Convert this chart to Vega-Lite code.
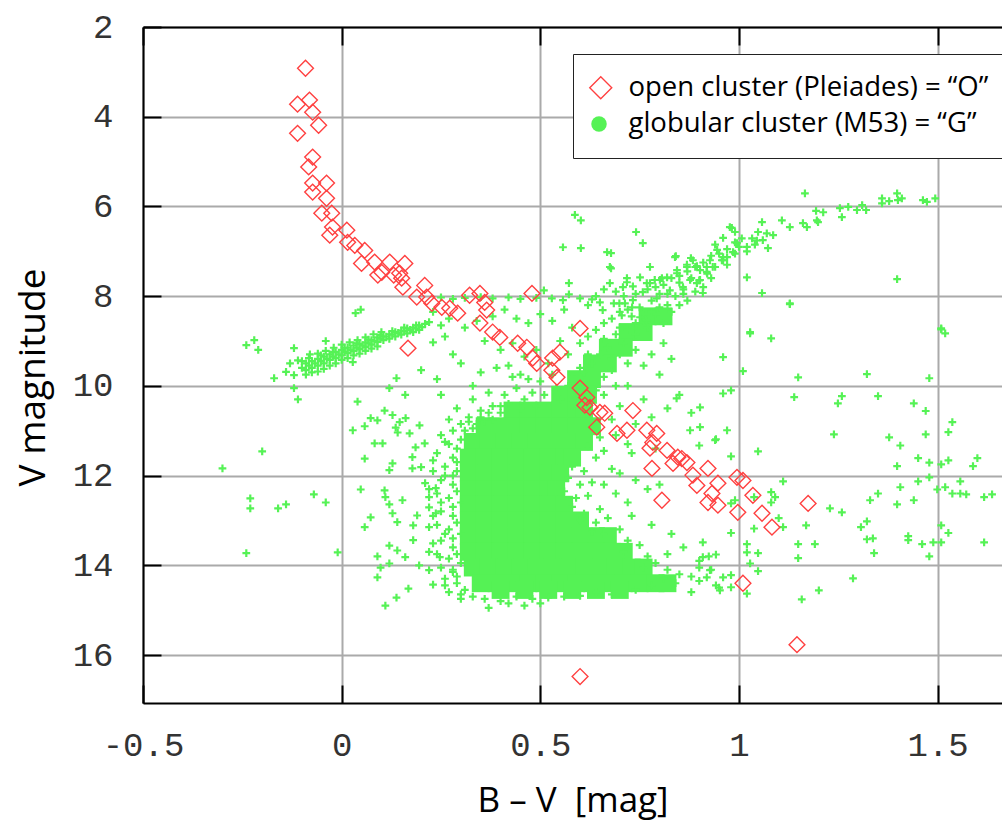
{
"$schema": "https://vega.github.io/schema/vega-lite/v6.json",
"width": 859, "height": 676,
"autosize": {"type": "none"},
"padding": {"left": 143, "top": 27, "right": 0, "bottom": 119},
"background": "white",
"config": {"view": {"stroke": null}},
"datasets": {
"core": [
{"b":0.77,"v":8.45},{"b":0.81,"v":8.45},
{"b":0.72,"v":8.8},{"b":0.76,"v":8.8},
{"b":0.67,"v":9.15},{"b":0.71,"v":9.15},
{"b":0.63,"v":9.5},{"b":0.67,"v":9.5},
{"b":0.59,"v":9.85},{"b":0.63,"v":9.85},
{"b":0.55,"v":10.2},{"b":0.59,"v":10.2},{"b":0.62,"v":10.2},
{"b":0.43,"v":10.55},{"b":0.47,"v":10.55},{"b":0.51,"v":10.55},{"b":0.55,"v":10.55},{"b":0.59,"v":10.55},{"b":0.61,"v":10.55},
{"b":0.36,"v":10.9},{"b":0.39,"v":10.9},{"b":0.43,"v":10.9},{"b":0.47,"v":10.9},{"b":0.51,"v":10.9},{"b":0.55,"v":10.9},{"b":0.59,"v":10.9},{"b":0.63,"v":10.9},
{"b":0.33,"v":11.25},{"b":0.37,"v":11.25},{"b":0.41,"v":11.25},{"b":0.45,"v":11.25},{"b":0.49,"v":11.25},{"b":0.53,"v":11.25},{"b":0.57,"v":11.25},{"b":0.61,"v":11.25},
{"b":0.32,"v":11.6},{"b":0.36,"v":11.6},{"b":0.40,"v":11.6},{"b":0.44,"v":11.6},{"b":0.48,"v":11.6},{"b":0.52,"v":11.6},{"b":0.56,"v":11.6},{"b":0.58,"v":11.6},
{"b":0.32,"v":11.95},{"b":0.36,"v":11.95},{"b":0.40,"v":11.95},{"b":0.44,"v":11.95},{"b":0.48,"v":11.95},{"b":0.52,"v":11.95},{"b":0.55,"v":11.95},
{"b":0.32,"v":12.3},{"b":0.36,"v":12.3},{"b":0.40,"v":12.3},{"b":0.44,"v":12.3},{"b":0.48,"v":12.3},{"b":0.52,"v":12.3},{"b":0.54,"v":12.3},
{"b":0.32,"v":12.65},{"b":0.36,"v":12.65},{"b":0.40,"v":12.65},{"b":0.44,"v":12.65},{"b":0.48,"v":12.65},{"b":0.52,"v":12.65},{"b":0.56,"v":12.65},
{"b":0.32,"v":13.0},{"b":0.36,"v":13.0},{"b":0.40,"v":13.0},{"b":0.44,"v":13.0},{"b":0.48,"v":13.0},{"b":0.52,"v":13.0},{"b":0.56,"v":13.0},{"b":0.60,"v":13.0},
{"b":0.32,"v":13.35},{"b":0.36,"v":13.35},{"b":0.40,"v":13.35},{"b":0.44,"v":13.35},{"b":0.48,"v":13.35},{"b":0.52,"v":13.35},{"b":0.56,"v":13.35},{"b":0.60,"v":13.35},{"b":0.64,"v":13.35},{"b":0.67,"v":13.35},
{"b":0.32,"v":13.7},{"b":0.36,"v":13.7},{"b":0.40,"v":13.7},{"b":0.44,"v":13.7},{"b":0.48,"v":13.7},{"b":0.52,"v":13.7},{"b":0.56,"v":13.7},{"b":0.60,"v":13.7},{"b":0.64,"v":13.7},{"b":0.68,"v":13.7},{"b":0.71,"v":13.7},
{"b":0.33,"v":14.05},{"b":0.37,"v":14.05},{"b":0.41,"v":14.05},{"b":0.45,"v":14.05},{"b":0.49,"v":14.05},{"b":0.53,"v":14.05},{"b":0.57,"v":14.05},{"b":0.61,"v":14.05},{"b":0.65,"v":14.05},{"b":0.69,"v":14.05},{"b":0.73,"v":14.05},{"b":0.76,"v":14.05},
{"b":0.35,"v":14.4},{"b":0.39,"v":14.4},{"b":0.43,"v":14.4},{"b":0.47,"v":14.4},{"b":0.51,"v":14.4},{"b":0.55,"v":14.4},{"b":0.59,"v":14.4},{"b":0.63,"v":14.4},{"b":0.67,"v":14.4},{"b":0.71,"v":14.4},{"b":0.75,"v":14.4},{"b":0.79,"v":14.4},{"b":0.82,"v":14.4},
{"b":0.40,"v":14.55},{"b":0.46,"v":14.55},{"b":0.52,"v":14.55},{"b":0.58,"v":14.55},{"b":0.64,"v":14.55},{"b":0.70,"v":14.55}
],
"green": [
{"b":-0.09,"v":9.5},{"b":-0.09,"v":9.65},{"b":-0.09,"v":9.75},{"b":-0.075,"v":9.45},{"b":-0.075,"v":9.6},{"b":-0.075,"v":9.7},{"b":-0.06,"v":9.4},{"b":-0.06,"v":9.55},{"b":-0.06,"v":9.68},{"b":-0.045,"v":9.35},{"b":-0.045,"v":9.5},{"b":-0.045,"v":9.62},{"b":-0.03,"v":9.3},{"b":-0.03,"v":9.42},{"b":-0.03,"v":9.55},{"b":-0.015,"v":9.25},{"b":-0.015,"v":9.38},{"b":-0.015,"v":9.5},{"b":0,"v":9.2},{"b":0,"v":9.32},{"b":0,"v":9.42},{"b":0.015,"v":9.15},{"b":0.015,"v":9.27},{"b":0.015,"v":9.38},{"b":0.03,"v":9.1},{"b":0.03,"v":9.22},{"b":0.03,"v":9.32},{"b":0.045,"v":9.07},{"b":0.045,"v":9.18},{"b":0.045,"v":9.28},{"b":0.06,"v":9.03},{"b":0.06,"v":9.13},{"b":0.06,"v":9.22},{"b":0.075,"v":8.98},{"b":0.075,"v":9.08},{"b":0.075,"v":9.17},{"b":0.09,"v":8.92},{"b":0.09,"v":9.02},{"b":0.09,"v":9.12},{"b":0.105,"v":8.9},{"b":0.105,"v":8.98},{"b":0.12,"v":8.85},{"b":0.12,"v":8.95},{"b":0.135,"v":8.8},{"b":0.135,"v":8.9},{"b":0.15,"v":8.77},{"b":0.15,"v":8.86},{"b":0.165,"v":8.72},{"b":0.165,"v":8.83},{"b":0.18,"v":8.7},{"b":0.18,"v":8.8},{"b":0.195,"v":8.65},{"b":0.195,"v":8.75},{"b":0.21,"v":8.62},
{"b":-0.08,"v":9.3},{"b":-0.06,"v":9.28},{"b":-0.04,"v":9.22},{"b":-0.02,"v":9.15},{"b":0.0,"v":9.08},{"b":0.02,"v":9.03},{"b":0.04,"v":8.98},{"b":0.06,"v":8.92},{"b":0.08,"v":8.85},{"b":0.10,"v":8.8},
{"b":-0.0825,"v":9.55},{"b":-0.0675,"v":9.5},{"b":-0.0525,"v":9.45},{"b":-0.0375,"v":9.4},{"b":-0.0225,"v":9.35},{"b":-0.0075,"v":9.3},{"b":0.0075,"v":9.25},{"b":0.0225,"v":9.2},{"b":0.0375,"v":9.15},{"b":0.0525,"v":9.1},{"b":0.0675,"v":9.05},{"b":0.0825,"v":9.0},{"b":0.0975,"v":8.95},{"b":0.1125,"v":8.9},{"b":0.1275,"v":8.86},{"b":0.1425,"v":8.82},{"b":0.1575,"v":8.78},{"b":0.1725,"v":8.75},{"b":0.1875,"v":8.72},{"b":0.2025,"v":8.69},{"b":-0.0825,"v":9.38},{"b":-0.0525,"v":9.32},{"b":-0.0225,"v":9.25},{"b":0.0075,"v":9.15},{"b":0.0375,"v":9.05},{"b":0.0675,"v":8.97},{"b":0.0975,"v":8.87},{"b":0.1275,"v":8.78},{"b":0.1575,"v":8.7},{"b":0.1875,"v":8.65},{"b":-0.1,"v":9.6},{"b":-0.1,"v":9.45},
{"b":-0.24,"v":9.09},{"b":-0.22,"v":8.98},{"b":-0.21,"v":9.2},{"b":-0.12,"v":9.16},{"b":-0.13,"v":9.5},{"b":-0.11,"v":9.43},{"b":-0.14,"v":9.69},{"b":-0.17,"v":9.83},{"b":-0.12,"v":9.76},{"b":-0.12,"v":10.05},{"b":-0.11,"v":10.3},{"b":0.035,"v":8.38},{"b":0.048,"v":8.3},{"b":-0.04,"v":9.0},{"b":0.028,"v":9.47},{"b":0.22,"v":8.58},{"b":0.23,"v":9.03},{"b":0.25,"v":8.65},{"b":0.2,"v":9.65},{"b":0.138,"v":9.83},{"b":0.12,"v":10.05},{"b":0.04,"v":10.35},{"b":0.16,"v":10.2},
{"b":-0.2,"v":11.46},{"b":-0.3,"v":11.84},{"b":-0.23,"v":12.51},{"b":-0.23,"v":12.73},{"b":-0.16,"v":12.73},{"b":-0.14,"v":12.64},{"b":-0.07,"v":12.42},{"b":-0.04,"v":12.6},{"b":-0.24,"v":13.73},{"b":-0.01,"v":13.71},{"b":0.048,"v":12.31},{"b":0.058,"v":13.15},{"b":0.073,"v":12.93},{"b":0.028,"v":10.99},{"b":0.058,"v":10.9},{"b":0.073,"v":10.72},{"b":0.09,"v":10.77},{"b":0.083,"v":11.28},{"b":0.058,"v":11.62},{"b":0.103,"v":11.28},{"b":0.12,"v":11.88},{"b":0.11,"v":12.48},{"b":0.12,"v":13.56},{"b":0.09,"v":13.8},{"b":0.098,"v":14.05},{"b":0.09,"v":14.27},{"b":0.11,"v":14.9},{"b":0.138,"v":14.72},{"b":0.168,"v":14.52},{"b":0.12,"v":13.96},{"b":0.14,"v":13.67},{"b":0.16,"v":13.82},{"b":0.18,"v":13.44},{"b":0.195,"v":14.0},{"b":0.23,"v":14.43},{"b":0.22,"v":14.11},{"b":0.128,"v":12.84},{"b":0.14,"v":13.04},{"b":0.12,"v":12.64},{"b":0.19,"v":12.89},{"b":0.18,"v":13.11},{"b":0.22,"v":13.15},{"b":0.23,"v":13.51},{"b":0.247,"v":13.82},{"b":0.108,"v":10.55},{"b":0.128,"v":10.65},{"b":0.146,"v":10.81},{"b":0.161,"v":10.72},{"b":0.141,"v":11.04},{"b":0.136,"v":10.93},{"b":0.171,"v":11.06},{"b":0.196,"v":10.88},{"b":0.186,"v":11.37},{"b":0.209,"v":11.28},{"b":0.178,"v":11.59},{"b":0.128,"v":11.73},{"b":0.178,"v":11.84},{"b":0.2,"v":11.81},{"b":0.23,"v":11.66},{"b":0.21,"v":12.17},{"b":0.237,"v":12.28},{"b":0.22,"v":12.48},{"b":0.108,"v":12.33},{"b":0.153,"v":12.55},{"b":0.22,"v":12.71},{"b":0.237,"v":12.84},
{"b":0.25,"v":11.1},{"b":0.28,"v":11.0},{"b":0.27,"v":11.3},{"b":0.30,"v":11.2},{"b":0.24,"v":11.5},{"b":0.28,"v":11.6},{"b":0.26,"v":11.8},{"b":0.29,"v":11.9},{"b":0.25,"v":12.1},{"b":0.28,"v":12.2},{"b":0.24,"v":12.4},{"b":0.27,"v":12.5},{"b":0.30,"v":12.6},{"b":0.25,"v":12.8},{"b":0.28,"v":12.9},{"b":0.24,"v":13.1},{"b":0.27,"v":13.2},{"b":0.30,"v":13.3},{"b":0.25,"v":13.45},{"b":0.28,"v":13.6},{"b":0.24,"v":13.75},{"b":0.27,"v":13.85},{"b":0.30,"v":13.95},{"b":0.25,"v":14.05},{"b":0.28,"v":14.15},{"b":0.26,"v":14.3},{"b":0.29,"v":14.4},{"b":0.31,"v":14.55},{"b":0.27,"v":14.6},{"b":0.33,"v":14.7},{"b":0.36,"v":14.75},{"b":0.40,"v":14.8},{"b":0.44,"v":14.7},{"b":0.48,"v":14.75},{"b":0.52,"v":14.72},{"b":0.56,"v":14.7},{"b":0.60,"v":14.68},{"b":0.42,"v":14.85},{"b":0.50,"v":14.85},{"b":0.30,"v":14.75},{"b":0.37,"v":14.95},{"b":0.46,"v":14.9},
{"b":0.29,"v":11.4},{"b":0.29,"v":11.7},{"b":0.28,"v":12.0},{"b":0.29,"v":12.35},{"b":0.28,"v":12.7},{"b":0.29,"v":13.05},{"b":0.28,"v":13.4},{"b":0.29,"v":13.75},{"b":0.28,"v":14.1},{"b":0.29,"v":14.25},{"b":0.3,"v":14.65},{"b":0.26,"v":11.25},{"b":0.26,"v":12.0},{"b":0.25,"v":12.6},{"b":0.26,"v":13.3},{"b":0.26,"v":14.45},{"b":0.23,"v":12.9},{"b":0.22,"v":13.7},{"b":0.22,"v":12.3},{"b":0.23,"v":11.9},
{"b":0.37,"v":10.6},{"b":0.38,"v":10.75},{"b":0.40,"v":10.45},{"b":0.35,"v":10.7},{"b":0.34,"v":10.85},{"b":0.31,"v":11.0},{"b":0.32,"v":10.8},
{"b":0.32,"v":10.7},{"b":0.35,"v":10.55},{"b":0.30,"v":10.85},{"b":0.38,"v":10.45},{"b":0.42,"v":10.4},{"b":0.46,"v":10.3},{"b":0.36,"v":10.8},{"b":0.40,"v":10.6},{"b":0.45,"v":10.5},{"b":0.49,"v":10.45},{"b":0.33,"v":10.95},{"b":0.27,"v":10.75},{"b":0.29,"v":10.5},{"b":0.33,"v":10.3},{"b":0.37,"v":10.15},{"b":0.41,"v":10.2},{"b":0.44,"v":10.05},{"b":0.48,"v":10.15},{"b":0.51,"v":10.2},{"b":0.50,"v":9.9},{"b":0.54,"v":10.05},{"b":0.53,"v":9.75},{"b":0.47,"v":9.85},{"b":0.43,"v":9.8},
{"b":0.23,"v":8.35},{"b":0.27,"v":8.5},{"b":0.31,"v":8.7},{"b":0.26,"v":8.9},{"b":0.34,"v":8.55},{"b":0.38,"v":8.45},{"b":0.41,"v":8.3},{"b":0.44,"v":8.5},{"b":0.47,"v":8.6},{"b":0.5,"v":8.4},{"b":0.53,"v":8.55},{"b":0.56,"v":8.3},{"b":0.58,"v":8.7},{"b":0.36,"v":9.0},{"b":0.4,"v":9.2},{"b":0.43,"v":9.05},{"b":0.46,"v":9.35},{"b":0.49,"v":9.2},{"b":0.52,"v":9.5},{"b":0.55,"v":9.0},{"b":0.57,"v":9.3},{"b":0.3,"v":9.5},{"b":0.35,"v":9.7},{"b":0.39,"v":9.6},{"b":0.28,"v":9.3},{"b":0.24,"v":9.85},{"b":0.33,"v":10.0},{"b":0.42,"v":9.55},{"b":0.45,"v":9.75},{"b":0.25,"v":10.2},
{"b":0.25,"v":8.03},{"b":0.28,"v":8.06},{"b":0.31,"v":8.04},{"b":0.35,"v":8.02},{"b":0.38,"v":8.05},{"b":0.42,"v":8.03},{"b":0.45,"v":8.06},{"b":0.49,"v":8.04},{"b":0.509,"v":7.87},{"b":0.572,"v":7.96},{"b":0.529,"v":8.05},{"b":0.557,"v":8.09},{"b":0.6,"v":8.05},{"b":0.63,"v":8.07},{"b":0.65,"v":8.14},{"b":0.685,"v":8.16},{"b":0.699,"v":8.16},{"b":0.657,"v":8.31},
{"b":0.62,"v":9.3},{"b":0.6,"v":9.6},{"b":0.58,"v":9.95},{"b":0.55,"v":10.3},{"b":0.66,"v":8.95},{"b":0.7,"v":8.7},{"b":0.73,"v":8.45},{"b":0.75,"v":8.25},{"b":0.78,"v":8.1},{"b":0.8,"v":7.95},{"b":0.76,"v":8.55},{"b":0.79,"v":8.4},{"b":0.82,"v":8.2},{"b":0.84,"v":8.0},{"b":0.86,"v":7.85},{"b":0.71,"v":9.05},{"b":0.74,"v":8.85},{"b":0.77,"v":8.7},{"b":0.68,"v":9.4},{"b":0.72,"v":9.5},{"b":0.66,"v":9.8},{"b":0.64,"v":10.1},{"b":0.69,"v":10.0},{"b":0.62,"v":10.45},{"b":0.74,"v":9.2},{"b":0.81,"v":8.6},{"b":0.83,"v":8.35},{"b":0.87,"v":8.1},{"b":0.89,"v":7.9},{"b":0.9,"v":7.65},{"b":0.88,"v":7.6},{"b":0.92,"v":7.5},{"b":0.85,"v":7.7},{"b":0.94,"v":7.35},{"b":0.96,"v":7.2},{"b":0.97,"v":7.3},{"b":0.99,"v":7.05},{"b":1.0,"v":6.9},{"b":1.02,"v":7.0},{"b":1.04,"v":6.85},{"b":0.93,"v":7.6},{"b":0.91,"v":7.8},{"b":1.06,"v":6.75},
{"b":0.62,"v":8.2},{"b":0.64,"v":8.0},{"b":0.66,"v":7.85},{"b":0.69,"v":7.9},{"b":0.71,"v":8.0},{"b":0.74,"v":7.95},{"b":0.77,"v":7.85},{"b":0.79,"v":7.8},{"b":0.81,"v":7.75},{"b":0.83,"v":7.6},{"b":0.85,"v":7.55},{"b":0.87,"v":7.45},{"b":0.89,"v":7.35},{"b":0.91,"v":7.25},{"b":0.93,"v":7.1},{"b":0.95,"v":7.05},{"b":0.97,"v":6.95},{"b":0.94,"v":6.85},{"b":0.96,"v":6.7},{"b":0.72,"v":8.3},{"b":0.7,"v":8.35},{"b":0.68,"v":8.5},{"b":0.66,"v":8.6},{"b":0.64,"v":8.75},{"b":0.62,"v":8.9},{"b":0.6,"v":9.05},{"b":0.85,"v":8.2},{"b":0.86,"v":7.95},{"b":0.82,"v":7.95},{"b":0.8,"v":8.25},{"b":0.78,"v":8.35},{"b":0.76,"v":8.4},{"b":0.74,"v":8.6},{"b":0.72,"v":8.75},{"b":0.69,"v":8.85},{"b":0.7,"v":9.0},{"b":0.67,"v":9.15},{"b":0.65,"v":9.3},{"b":0.63,"v":9.5},{"b":0.61,"v":9.7},{"b":0.58,"v":9.8},{"b":0.57,"v":10.0},{"b":0.6,"v":10.3},{"b":0.66,"v":10.2},{"b":0.68,"v":9.65},{"b":0.7,"v":9.3},
{"b":0.982,"v":6.48},{"b":0.99,"v":6.57},{"b":1.007,"v":6.71},{"b":0.995,"v":6.82},{"b":1.02,"v":6.9},{"b":1.033,"v":6.71},{"b":1.048,"v":6.57},{"b":1.045,"v":6.76},{"b":1.07,"v":6.6},{"b":1.086,"v":6.64},{"b":1.073,"v":6.93},{"b":1.058,"v":6.35},{"b":1.108,"v":6.31},{"b":1.128,"v":6.46},{"b":1.161,"v":6.37},{"b":1.171,"v":6.46},{"b":1.196,"v":6.31},{"b":1.194,"v":6.1},{"b":1.212,"v":6.13},{"b":1.199,"v":6.35},{"b":1.254,"v":6.04},{"b":1.259,"v":6.24},{"b":1.275,"v":6.01},{"b":1.297,"v":6.08},{"b":1.31,"v":5.97},{"b":1.32,"v":6.08},{"b":1.36,"v":5.93},{"b":1.36,"v":5.82},{"b":1.378,"v":5.88},{"b":1.398,"v":5.71},{"b":1.4,"v":5.86},{"b":1.41,"v":5.82},{"b":1.463,"v":5.86},{"b":1.473,"v":5.9},{"b":1.494,"v":5.82},{"b":1.166,"v":5.71},{"b":1.398,"v":7.62},{"b":1.509,"v":8.72},{"b":1.519,"v":8.83},{"b":1.128,"v":8.16},{"b":1.058,"v":7.93},{"b":1.02,"v":7.58},{"b":1.028,"v":8.83},{"b":1.081,"v":8.94},{"b":0.977,"v":6.46},{"b":0.945,"v":6.97},{"b":0.96,"v":7.13},{"b":0.927,"v":7.2},{"b":0.902,"v":7.42},{"b":0.919,"v":7.35},{"b":0.884,"v":7.2},{"b":0.869,"v":7.35},{"b":0.844,"v":7.49},{"b":0.877,"v":7.64},{"b":0.894,"v":7.71},{"b":0.909,"v":7.93},{"b":0.859,"v":7.8},{"b":0.819,"v":7.58},{"b":0.826,"v":7.87},{"b":0.801,"v":7.64},{"b":0.776,"v":7.35},{"b":0.841,"v":7.11},{"b":0.879,"v":7.15},{"b":0.776,"v":7.71},{"b":0.751,"v":7.58},{"b":0.718,"v":7.6},{"b":0.758,"v":7.91},{"b":0.793,"v":8.05},{"b":0.733,"v":8.09},{"b":0.713,"v":8.16},{"b":0.741,"v":6.57},{"b":0.758,"v":6.82},{"b":0.602,"v":6.31},{"b":0.602,"v":6.93},{"b":0.557,"v":6.91},{"b":0.668,"v":7.02},{"b":0.572,"v":7.71},{"b":0.705,"v":8.43},{"b":0.731,"v":8.25},{"b":0.751,"v":8.47},{"b":0.768,"v":8.54},{"b":0.678,"v":7.38},{"b":0.708,"v":7.8},{"b":0.733,"v":7.78},{"b":0.768,"v":7.71},{"b":0.788,"v":7.64},{"b":0.806,"v":7.6},{"b":0.839,"v":7.13},{"b":0.844,"v":7.42},{"b":0.869,"v":7.3},{"b":0.894,"v":7.33},{"b":0.902,"v":7.64},{"b":0.919,"v":7.46},{"b":0.934,"v":7.35},{"b":0.957,"v":7.2},{"b":0.97,"v":7.13},{"b":0.985,"v":7.02},{"b":0.99,"v":6.8},{"b":0.675,"v":7.71},{"b":0.718,"v":7.69},{"b":0.675,"v":7.35},{"b":0.678,"v":7.04},{"b":0.587,"v":6.19},
{"b":1.128,"v":8.18},{"b":1.028,"v":8.8},{"b":0.96,"v":9.36},{"b":1.01,"v":9.67},{"b":1.149,"v":9.81},{"b":1.322,"v":9.74},{"b":1.479,"v":9.83},{"b":1.509,"v":8.74},{"b":0.96,"v":10.17},{"b":0.98,"v":10.1},{"b":1.139,"v":10.25},{"b":1.249,"v":10.39},{"b":1.259,"v":10.23},{"b":1.35,"v":10.23},{"b":1.44,"v":10.39},{"b":1.47,"v":10.56},{"b":1.537,"v":10.81},{"b":1.527,"v":11.03},{"b":1.47,"v":11.08},{"b":1.406,"v":11.33},{"b":1.378,"v":11.15},{"b":1.239,"v":11.08},{"b":0.97,"v":10.99},{"b":0.942,"v":11.19},{"b":0.98,"v":11.57},{"b":1.048,"v":11.46},{"b":1.398,"v":11.79},{"b":1.451,"v":11.61},{"b":1.479,"v":11.71},{"b":1.509,"v":11.75},{"b":1.527,"v":11.66},{"b":1.589,"v":11.79},{"b":1.6,"v":11.61},{"b":1.479,"v":12.04},{"b":1.451,"v":12.13},{"b":1.406,"v":12.26},{"b":1.35,"v":12.4},{"b":1.33,"v":12.55},{"b":1.398,"v":12.64},{"b":1.44,"v":12.55},{"b":1.499,"v":12.31},{"b":1.519,"v":12.26},{"b":1.537,"v":12.4},{"b":1.557,"v":12.4},{"b":1.572,"v":12.42},{"b":1.617,"v":12.48},{"b":1.637,"v":12.42},{"b":1.557,"v":12.13},{"b":1.111,"v":12.13},{"b":1.081,"v":12.37},{"b":1.091,"v":12.48},{"b":1.081,"v":12.6},{"b":1.1,"v":12.95},{"b":1.111,"v":13.15},{"b":1.038,"v":13.18},{"b":0.98,"v":13.28},{"b":1.229,"v":12.73},{"b":1.259,"v":12.82},{"b":1.169,"v":13.11},{"b":1.307,"v":13.15},{"b":1.322,"v":13.02},{"b":1.322,"v":13.42},{"b":1.337,"v":13.4},{"b":1.34,"v":13.73},{"b":1.426,"v":13.35},{"b":1.426,"v":13.44},{"b":1.461,"v":13.53},{"b":1.479,"v":13.8},{"b":1.489,"v":13.49},{"b":1.509,"v":13.49},{"b":1.509,"v":13.11},{"b":1.527,"v":13.28},{"b":1.617,"v":13.49},{"b":1.149,"v":13.53},{"b":1.191,"v":13.53},{"b":1.149,"v":13.84},{"b":1.287,"v":14.29},{"b":1.201,"v":14.56},{"b":1.158,"v":14.76},{"b":1.048,"v":14.13},{"b":1.048,"v":13.73},{"b":1.02,"v":13.71},{"b":1.02,"v":13.53},{"b":1.028,"v":13.96},{"b":1.02,"v":14.63},{"b":0.98,"v":14.22},{"b":0.98,"v":14.49},{"b":0.952,"v":14.56},{"b":0.96,"v":14.27},{"b":0.942,"v":14.45},{"b":0.942,"v":13.76},{"b":0.924,"v":13.8},{"b":0.909,"v":13.49},{"b":0.909,"v":13.82},{"b":0.9,"v":14.05},{"b":0.927,"v":14.11},{"b":0.919,"v":14.27},{"b":1.038,"v":12.48},{"b":0.98,"v":12.62},{"b":0.99,"v":12.55},{"b":0.902,"v":10.92},{"b":0.902,"v":10.48},
{"b":0.58,"v":11.8},{"b":0.61,"v":11.9},{"b":0.57,"v":12.05},{"b":0.60,"v":12.2},{"b":0.63,"v":12.15},{"b":0.56,"v":12.35},{"b":0.59,"v":12.5},{"b":0.62,"v":12.45},{"b":0.58,"v":12.7},{"b":0.61,"v":12.85},{"b":0.65,"v":12.75},{"b":0.60,"v":13.0},{"b":0.64,"v":13.05},{"b":0.67,"v":12.95},{"b":0.63,"v":13.25},{"b":0.66,"v":13.3},{"b":0.70,"v":13.2},{"b":0.72,"v":13.45},{"b":0.75,"v":13.55},{"b":0.71,"v":13.7},{"b":0.77,"v":13.8},{"b":0.79,"v":13.95},{"b":0.76,"v":14.05},{"b":0.82,"v":14.1},{"b":0.85,"v":14.2},{"b":0.81,"v":14.3},{"b":0.88,"v":14.25},{"b":0.84,"v":14.4},{"b":0.78,"v":14.45},{"b":0.74,"v":14.55},{"b":0.9,"v":14.35},{"b":0.68,"v":14.65},{"b":0.64,"v":14.6},{"b":0.72,"v":12.6},{"b":0.69,"v":12.4},{"b":0.66,"v":12.2},{"b":0.68,"v":11.85},{"b":0.64,"v":11.6},{"b":0.70,"v":11.95},{"b":0.74,"v":12.1},{"b":0.77,"v":12.3},{"b":0.80,"v":12.2},{"b":0.73,"v":12.9},{"b":0.78,"v":13.1},{"b":0.83,"v":13.3},{"b":0.86,"v":13.6},{"b":0.82,"v":13.75},{"b":0.90,"v":13.9},{"b":0.93,"v":14.1},{"b":0.88,"v":14.6},{"b":0.95,"v":14.5},{"b":0.62,"v":11.35},{"b":0.66,"v":11.45},{"b":0.65,"v":11.15},{"b":0.69,"v":11.1},{"b":0.72,"v":11.3},
{"b":0.78,"v":9.3},{"b":0.81,"v":9.05},{"b":0.76,"v":9.55},{"b":0.83,"v":9.4},{"b":0.8,"v":9.75},{"b":0.72,"v":10.0},{"b":0.76,"v":10.3},{"b":0.7,"v":10.45},{"b":0.78,"v":10.7},{"b":0.74,"v":10.85},{"b":0.82,"v":10.5},{"b":0.68,"v":10.75},{"b":0.85,"v":10.2},{"b":0.88,"v":10.6},{"b":0.73,"v":11.5},{"b":0.79,"v":11.4},{"b":0.843,"v":10.28},{"b":0.877,"v":10.99},{"b":0.94,"v":11.21},{"b":0.9,"v":11.33}
],
"open": [
{"b":-0.091,"v":2.92},{"b":-0.111,"v":3.72},{"b":-0.081,"v":3.63},{"b":-0.073,"v":3.90},{"b":-0.058,"v":4.19},{"b":-0.111,"v":4.37},{"b":-0.073,"v":4.90},{"b":-0.083,"v":5.12},{"b":-0.073,"v":5.48},{"b":-0.038,"v":5.48},{"b":-0.073,"v":5.68},{"b":-0.038,"v":5.82},{"b":-0.050,"v":6.15},{"b":-0.025,"v":6.15},{"b":-0.023,"v":6.46},{"b":-0.030,"v":6.64},{"b":0.013,"v":6.53},{"b":0.015,"v":6.80},{"b":0.033,"v":6.87},{"b":0.050,"v":7.27},{"b":0.058,"v":6.98},{"b":0.091,"v":7.53},{"b":0.101,"v":7.47},{"b":0.083,"v":7.24},{"b":0.121,"v":7.24},{"b":0.146,"v":7.49},{"b":0.151,"v":7.60},{"b":0.159,"v":7.27},{"b":0.154,"v":7.80},{"b":0.209,"v":7.76},{"b":0.189,"v":8.02},{"b":0.214,"v":8.02},{"b":0.227,"v":8.16},{"b":0.252,"v":8.25},{"b":0.272,"v":8.27},{"b":0.292,"v":8.38},{"b":0.322,"v":7.98},{"b":0.348,"v":7.94},{"b":0.360,"v":8.14},{"b":0.365,"v":8.31},{"b":0.348,"v":8.60},{"b":0.380,"v":8.80},{"b":0.398,"v":8.92},{"b":0.443,"v":9.05},{"b":0.466,"v":9.14},{"b":0.481,"v":9.38},{"b":0.479,"v":7.94},{"b":0.491,"v":9.50},{"b":0.531,"v":9.38},{"b":0.549,"v":9.25},{"b":0.529,"v":9.65},{"b":0.542,"v":9.81},{"b":0.600,"v":8.72},{"b":0.600,"v":10.05},{"b":0.617,"v":10.26},{"b":0.625,"v":10.48},{"b":0.642,"v":10.92},{"b":0.612,"v":10.43},{"b":0.650,"v":10.59},{"b":0.662,"v":10.61},{"b":0.733,"v":10.55},{"b":0.718,"v":10.99},{"b":0.693,"v":11.06},{"b":0.768,"v":10.99},{"b":0.793,"v":11.06},{"b":0.783,"v":11.26},{"b":0.776,"v":11.39},{"b":0.819,"v":11.44},{"b":0.846,"v":11.59},{"b":0.856,"v":11.62},{"b":0.834,"v":11.73},{"b":0.869,"v":11.71},{"b":0.781,"v":11.84},{"b":0.884,"v":11.99},{"b":0.922,"v":11.84},{"b":0.894,"v":12.22},{"b":0.947,"v":12.17},{"b":0.932,"v":12.40},{"b":0.922,"v":12.60},{"b":0.947,"v":12.66},{"b":0.995,"v":12.04},{"b":1.010,"v":12.11},{"b":1.035,"v":12.44},{"b":0.997,"v":12.82},{"b":1.058,"v":12.84},{"b":1.083,"v":13.15},{"b":1.010,"v":14.40},{"b":0.806,"v":12.55},{"b":1.174,"v":12.62},{"b":1.146,"v":15.77},{"b":0.600,"v":16.48},{"b":0.167,"v":9.16},{"b":0.131,"v":7.53}
]
},
"layer": [
{
"data": {"name": "core"},
"mark": {"type": "point", "shape": "square", "filled": true, "size": 320, "opacity": 1, "strokeWidth": 0, "clip": true},
"encoding": {
"x": {"field": "b", "type": "quantitative",
 "scale": {"domain": [-0.5, 1.662], "nice": false, "zero": false},
 "axis": {"orient": "bottom", "values": [-0.5, 0, 0.5, 1, 1.5],
  "labelExpr": "replace(format(datum.value, '~g'), '\u2212', '-')",
  "labelFont": "Liberation Mono", "labelFontSize": 34, "labelColor": "#333",
  "labelBaseline": "middle", "labelPadding": 60, "labelFlush": false, "labelOverlap": false,
  "tickSize": -18, "tickColor": "#000", "tickWidth": 2,
  "domainColor": "#000", "domainWidth": 2,
  "grid": true, "gridColor": "#aaaaaa", "gridWidth": 2, "gridOpacity": 1,
  "title": "B – V \u00a0[mag]", "titleFont": "Open Sans", "titleFontSize": 35, "titleFontWeight": "normal", "titleColor": "#000",
  "titleBaseline": "middle", "titleY": 97}},
"y": {"field": "v", "type": "quantitative",
 "scale": {"domain": [2, 17.07], "reverse": true, "nice": false, "zero": false},
 "axis": {"orient": "left", "values": [2, 4, 6, 8, 10, 12, 14, 16],
  "labelFont": "Liberation Mono", "labelFontSize": 34, "labelColor": "#333",
  "labelPadding": 48, "labelFlush": false, "labelOverlap": false,
  "tickSize": -18, "tickColor": "#000", "tickWidth": 2,
  "domainColor": "#000", "domainWidth": 2,
  "grid": true, "gridColor": "#aaaaaa", "gridWidth": 2, "gridOpacity": 1,
  "title": "V magnitude", "titleFont": "Open Sans", "titleFontSize": 37, "titleFontWeight": "normal", "titleColor": "#000",
  "titleBaseline": "middle", "titleX": -110, "titleY": 350}},
"fill": {"datum": "G", "type": "nominal",
 "scale": {"domain": ["G"], "range": ["#55f255"]},
 "legend": {"orient": "none", "legendX": 448, "legendY": 89, "title": null, "padding": 0, "zindex": 3,
  "symbolType": "circle", "symbolSize": 240, "symbolStrokeWidth": 0,
  "labelExpr": "''", "labelFontSize": 1, "labelOpacity": 0, "labelOffset": 0}}
}
},
{
"data": {"name": "green"},
"mark": {"type": "point", "shape": "M-1,0H1M0,-1V1", "filled": false, "size": 60, "strokeWidth": 2.2, "color": "#55f255", "opacity": 1, "clip": true},
"encoding": {
"x": {"field": "b", "type": "quantitative",
 "axis": {"orient": "top", "values": [-0.5, 0, 0.5, 1, 1.5], "labels": false, "title": null, "grid": false,
  "tickSize": -18, "tickColor": "#000", "tickWidth": 2, "domainColor": "#000", "domainWidth": 2}},
"y": {"field": "v", "type": "quantitative"}
}
},
{
"data": {"name": "open"},
"mark": {"type": "point", "shape": "diamond", "filled": false, "size": 250, "strokeWidth": 1.4, "opacity": 1, "clip": true},
"encoding": {
"x": {"field": "b", "type": "quantitative", "axis": null},
"y": {"field": "v", "type": "quantitative"},
"color": {"datum": "O", "type": "nominal",
 "scale": {"domain": ["O", "G"], "range": ["#ff4040", "transparent"]},
 "legend": {"orient": "none", "legendX": 430, "legendY": 27, "direction": "vertical", "title": null, "zindex": 2,
  "fillColor": "white", "strokeColor": "#222", "padding": 20,
  "labelFont": "Open Sans", "labelFontSize": 27.5, "labelColor": "#000", "labelLimit": 600, "labelOffset": 14,
  "rowPadding": 7, "symbolSize": 484, "symbolStrokeWidth": 1.4, "symbolOffset": -6,
  "labelExpr": "datum.value == 'O' ? 'open cluster (Pleiades) = “O”' : 'globular cluster (M53) = “G”'"}}
}
}
]
}
